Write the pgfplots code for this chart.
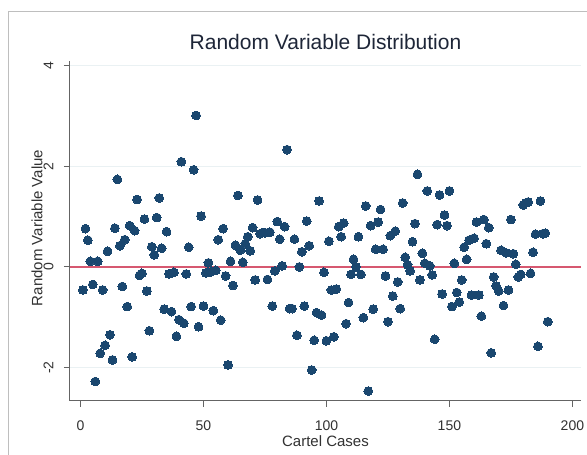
\documentclass[border=0pt]{standalone}
\usepackage{fontspec}
\setmainfont{Liberation Sans}
\usepackage{pgfplots}
\usepackage{pgfplotstable}
\pgfplotsset{compat=1.18}
\definecolor{stnavy}{RGB}{26,71,111}
\definecolor{zeroline}{RGB}{214,88,112}
\definecolor{gridc}{RGB}{234,241,243}
\definecolor{axisc}{RGB}{100,100,100}
\definecolor{framec}{RGB}{190,190,190}
\definecolor{txtc}{RGB}{50,50,50}
\definecolor{titlec}{RGB}{30,38,56}

\pgfplotstableread{
x y
1 -0.46
2 0.76
3 0.53
4 0.11
5 -0.35
6 -2.28
7 0.11
8 -1.72
9 -0.46
10 -1.56
11 0.31
12 -1.35
13 -1.85
14 0.77
15 1.74
16 0.42
17 -0.39
18 0.54
19 -0.79
20 0.82
21 -1.79
22 0.72
23 1.34
24 -0.17
25 -0.13
26 0.95
27 -0.48
28 -1.27
29 0.40
30 0.24
31 0.98
32 1.37
33 0.37
34 -0.84
35 0.70
36 -0.14
37 -0.89
38 -0.11
39 -1.38
40 -1.05
41 2.09
42 -1.12
43 -0.14
44 0.39
45 -0.79
46 1.93
47 3.01
48 -1.19
49 1.01
50 -0.78
51 -0.12
52 0.08
53 -0.10
54 -0.87
55 -0.07
56 0.54
57 -1.06
58 0.76
59 -0.18
60 -1.95
61 0.11
62 -0.37
63 0.43
64 1.42
65 0.33
66 0.09
67 0.46
68 0.60
69 0.32
70 0.78
71 -0.26
72 1.33
73 0.66
74 0.68
75 0.68
76 -0.25
77 0.69
78 -0.78
79 -0.08
80 0.90
81 0.55
82 0.02
83 0.80
84 2.33
85 -0.83
86 -0.83
87 0.55
88 -1.36
89 0.00
90 0.30
91 -0.78
92 0.91
93 0.42
94 -2.05
95 -1.46
96 -0.91
97 1.31
98 -0.96
99 -0.11
100 -1.47
101 0.51
102 -0.46
103 -1.39
104 -0.44
105 0.80
106 0.60
107 0.87
108 -1.13
109 -0.71
110 -0.15
111 0.15
112 0.00
113 0.60
114 -0.15
115 -1.01
116 1.21
117 -2.47
118 0.82
119 -0.84
120 0.35
121 0.89
122 1.14
123 0.35
124 -0.18
125 -1.09
126 0.62
127 -0.58
128 0.71
129 -0.30
130 -0.83
131 1.27
132 0.19
133 0.04
134 -0.08
135 0.50
136 0.86
137 1.84
138 -0.26
139 0.27
140 0.07
141 1.51
142 0.02
143 -0.16
144 -1.44
145 0.84
146 1.43
147 -0.54
148 1.03
149 0.82
150 1.51
151 -0.79
152 0.07
153 -0.51
154 -0.70
155 -0.26
156 0.39
157 0.15
158 0.53
159 -0.56
160 0.57
161 0.89
162 -0.56
163 -0.98
164 0.94
165 0.46
166 0.78
167 -1.71
168 -0.20
169 -0.38
170 -0.48
171 0.33
172 -0.77
173 0.28
174 -0.46
175 0.94
176 0.26
177 0.05
178 -0.20
179 -0.15
180 1.23
181 1.27
182 1.29
183 -0.13
184 0.29
185 0.65
186 -1.58
187 1.31
188 0.66
189 0.67
190 -1.09
}\cartel

\begin{document}
\begin{tikzpicture}[x=1pt,y=1pt]
\useasboundingbox (-70,-54) rectangle (517,401);
\fill[white] (-70,-54) rectangle (517,401);
\draw[framec, line width=1pt] (-61,-54) -- (-61,389) -- (517,389);
\begin{axis}[
  at={(0,0)}, anchor=south west,
  scale only axis, width=511pt, height=340pt,
  xmin=-4.27, xmax=203.5, ymin=-2.667, ymax=4.093,
  axis lines*=left,
  axis line style={axisc, line width=1pt},
  xtick={0,50,100,150,200},
  ytick={-2,0,2,4},
  tick align=outside,
  major tick length=6pt,
  tick style={axisc, line width=1pt},
  ymajorgrids=true,
  grid style={gridc, line width=1.3pt},
  /pgf/number format/assume math mode=true,
  ticklabel style={font=\fontsize{14}{14}\selectfont, text=txtc},
  yticklabel style={rotate=90, anchor=center, yshift=15.5pt},
  xticklabel style={anchor=center, yshift=-19pt},
  title={Random Variable Distribution},
  title style={font=\fontsize{21}{21}\selectfont, text=titlec,
    at={(axis description cs:0.5,1)}, anchor=center, yshift=13pt},
  xlabel={Cartel Cases},
  xlabel style={font=\fontsize{15}{15}\selectfont, text=txtc,
    at={(axis description cs:0.5,0)}, anchor=center, yshift=-40pt},
  ylabel={Random Variable Value},
  ylabel style={font=\fontsize{15}{15}\selectfont, text=txtc,
    at={(axis description cs:0,0.509)}, anchor=center, rotate=0, yshift=33pt},
  clip=false,
]
\addplot[zeroline, line width=1.8pt] coordinates {(-4.27,0) (203.5,0)};
\addplot[only marks, mark=*, mark size=4.4pt,
  mark options={fill=stnavy, draw=stnavy, line width=0pt}] table[x=x,y=y] {\cartel};
\end{axis}
\end{tikzpicture}
\end{document}
